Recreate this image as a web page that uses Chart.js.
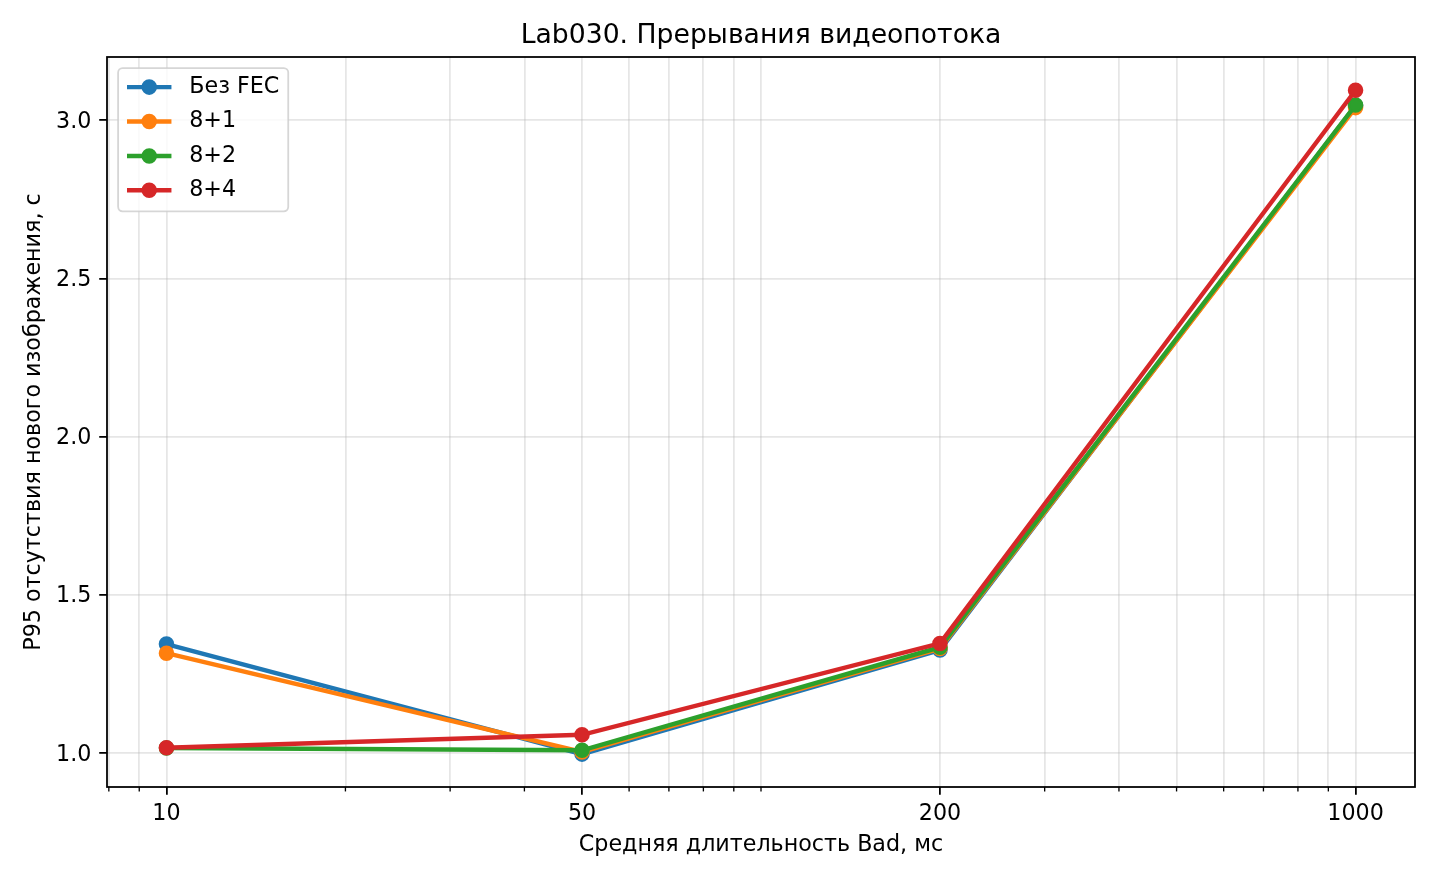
<!DOCTYPE html>
<html lang="ru">
<head>
<meta charset="utf-8">
<title>Lab030. Прерывания видеопотока</title>
<script src="https://cdn.jsdelivr.net/npm/chart.js@4.4.1/dist/chart.umd.min.js"></script>
<style>
  html, body { margin: 0; padding: 0; background: #fff; }
  #wrap { width: 1440px; height: 880px; }
</style>
</head>
<body>
<div id="wrap"><canvas id="chart" width="1440" height="880"></canvas></div>
<script>
// ---- data ----
const badDurations = [10, 50, 200, 1000];
const seriesNames = ['Без FEC', '8+1', '8+2', '8+4'];
const noFec = [1.344, 0.996, 1.325, 3.046];
const fec81 = [1.315, 1.003, 1.330, 3.040];
const fec82 = [1.015, 1.008, 1.334, 3.048];
const fec84 = [1.016, 1.057, 1.346, 3.095];
const seriesColors = ['#1f77b4', '#ff7f0e', '#2ca02c', '#d62728'];

// ticks
const xTickLabels = [10, 50, 200, 1000];
const xGridValues = [8, 9, 10, 20, 30, 40, 50, 60, 70, 80, 90,
                     100, 200, 300, 400, 500, 600, 700, 800, 900, 1000];
const yTickValues = [1.0, 1.5, 2.0, 2.5, 3.0];

const PT = 160 / 72;          // matplotlib points -> px (dpi 160)
const FS = 10 * PT;           // base font size
const GRID = 'rgba(176,176,176,0.32)';

Chart.defaults.font.family = '"DejaVu Sans", sans-serif';
Chart.defaults.color = '#000';

const allSeries = [noFec, fec81, fec82, fec84];

/* ==========================================================
   extra drawing: axes frame, minor ticks, legend box
   ========================================================== */
const mplDecor = {
    id: 'mplDecor',
    afterDatasetsDraw(chart) {
        const { ctx, chartArea: a, scales } = chart;
        ctx.save();
        // minor tick marks on x
        ctx.strokeStyle = '#000';
        ctx.lineWidth = 0.6 * PT;
        xGridValues.filter(v => !xTickLabels.includes(v)).forEach(v => {
            const px = scales.x.getPixelForValue(v);
            if (px < a.left - 0.5 || px > a.right + 0.5) return;
            ctx.beginPath();
            ctx.moveTo(px, a.bottom);
            ctx.lineTo(px, a.bottom + 2 * PT);
            ctx.stroke();
        });
        // frame
        ctx.lineWidth = 0.8 * PT;
        ctx.strokeRect(a.left, a.top, a.right - a.left, a.bottom - a.top);
        ctx.restore();
    },
    afterDraw(chart) {
        const { ctx, chartArea: a } = chart;
        const sets = chart.data.datasets;
        ctx.save();
        ctx.font = FS + 'px "DejaVu Sans"';
        const textW = Math.max(...sets.map(d => ctx.measureText(d.label).width));
        const pad = 0.4 * FS;
        const handle = 2.0 * FS;
        const textPad = 0.8 * FS;
        const rowH = 34.4;
        const x0 = a.left + 0.5 * FS;
        const y0 = a.top + 0.5 * FS;
        const w = pad + handle + textPad + textW + pad;
        const h = 19 + rowH * (sets.length - 1) + 21;

        // box
        const r = 0.2 * FS;
        ctx.beginPath();
        ctx.roundRect(x0, y0, w, h, r);
        ctx.fillStyle = 'rgba(255,255,255,0.8)';
        ctx.fill();
        ctx.strokeStyle = 'rgba(204,204,204,0.8)';
        ctx.lineWidth = 1.0 * PT * 0.8;
        ctx.stroke();

        sets.forEach((d, i) => {
            const cy = y0 + 19 + i * rowH;
            const lx = x0 + pad;
            ctx.strokeStyle = d.borderColor;
            ctx.lineWidth = d.borderWidth;
            ctx.beginPath();
            ctx.moveTo(lx, cy);
            ctx.lineTo(lx + handle, cy);
            ctx.stroke();
            ctx.beginPath();
            ctx.arc(lx + handle / 2, cy, d.pointRadius, 0, Math.PI * 2);
            ctx.fillStyle = d.pointBackgroundColor;
            ctx.fill();
            ctx.lineWidth = d.pointBorderWidth;
            ctx.strokeStyle = d.pointBorderColor;
            ctx.stroke();
            ctx.fillStyle = '#000';
            ctx.textAlign = 'left';
            ctx.textBaseline = 'middle';
            ctx.fillText(d.label, lx + handle + textPad, cy);
        });
        ctx.restore();
    }
};

const datasets = seriesNames.map((name, i) => ({
    label: name,
    data: badDurations.map((x, j) => ({ x: x, y: allSeries[i][j] })),
    borderColor: seriesColors[i],
    backgroundColor: seriesColors[i],
    pointBackgroundColor: seriesColors[i],
    pointBorderColor: seriesColors[i],
    borderWidth: 2 * PT,
    pointRadius: 3 * PT,
    pointBorderWidth: 1 * PT,
    tension: 0,
    fill: false,
    order: seriesNames.length - i   // later series on top, like matplotlib
}));

new Chart(document.getElementById('chart'), {
    type: 'line',
    data: { datasets: datasets },
    plugins: [mplDecor],
    options: {
        responsive: false,
        animation: false,
        layout: { padding: { left: 0, right: 25, top: 0, bottom: 0 } },
        plugins: {
            legend: { display: false },
            tooltip: { enabled: false },
            title: {
                display: true,
                fullSize: false,
                text: 'Lab030. Прерывания видеопотока',
                color: '#000',
                font: { size: 12 * PT, weight: 'normal' },
                padding: { top: 20, bottom: 5 }
            }
        },
        scales: {
            x: {
                type: 'logarithmic',
                min: Math.pow(10, 0.9),
                max: Math.pow(10, 3.1),
                afterBuildTicks: (scale) => {
                    scale.ticks = xGridValues.map(v => ({ value: v }));
                },
                afterFit: (scale) => { scale.height = 93; },
                ticks: {
                    autoSkip: false,
                    maxRotation: 0,
                    padding: 6,
                    font: { size: FS },
                    callback: (v) => xTickLabels.includes(v) ? String(v) : ''
                },
                grid: {
                    color: GRID,
                    lineWidth: 0.8 * PT,
                    tickLength: 3.5 * PT,
                    tickWidth: 0.8 * PT,
                    tickColor: (c) => (c.tick && xTickLabels.includes(c.tick.value)) ? '#000' : 'rgba(0,0,0,0)'
                },
                border: { display: false },
                title: {
                    display: true,
                    text: 'Средняя длительность Bad, мс',
                    font: { size: FS },
                    padding: { top: 0, bottom: 21.7 }
                }
            },
            y: {
                type: 'linear',
                min: 0.892,
                max: 3.2,
                afterBuildTicks: (scale) => {
                    scale.ticks = yTickValues.map(v => ({ value: v }));
                },
                afterFit: (scale) => { scale.width = 107; },
                ticks: {
                    padding: 3.5 * PT,
                    labelOffset: 2,
                    font: { size: FS },
                    callback: (v) => Number(v).toFixed(1)
                },
                grid: {
                    color: GRID,
                    lineWidth: 0.8 * PT,
                    tickLength: 3.5 * PT,
                    tickWidth: 0.8 * PT,
                    tickColor: '#000'
                },
                border: { display: false },
                title: {
                    display: true,
                    text: 'P95 отсутствия нового изображения, с',
                    font: { size: FS },
                    padding: { top: 21, bottom: 0 }
                }
            }
        }
    }
});
</script>
</body>
</html>
